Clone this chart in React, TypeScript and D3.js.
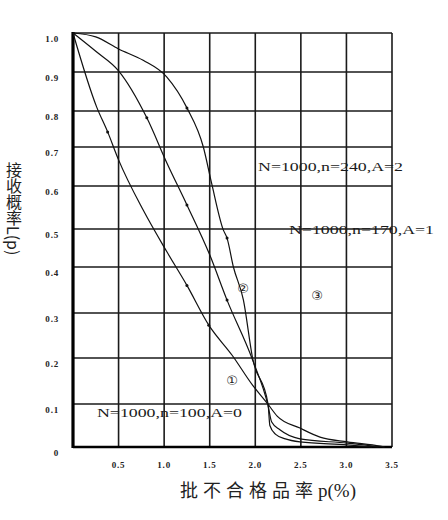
import * as d3 from 'd3'

const width = 448
const height = 520

// axis ticks
const xTicks = [0.5, 1.0, 1.5, 2.0, 2.5, 3.0, 3.5]
const xTickLabels = ['0.5', '1.0', '1.5', '2.0', '2.5', '3.0', '3.5']
const yTicks = [0, 0.1, 0.2, 0.3, 0.4, 0.5, 0.6, 0.7, 0.8, 0.9, 1.0]
const yTickLabels = ['0', '0.1', '0.2', '0.3', '0.4', '0.5', '0.6', '0.7', '0.8', '0.9', '1.0']

// OC curves, p in %, L(p)
const pA0 = [0, 0.26, 0.38, 0.5, 0.77, 1.03, 1.25, 1.49, 1.75, 1.97, 2.13, 2.24, 2.49, 2.71, 3.01, 3.37, 3.42]
const lA0 = [1.0, 0.81, 0.742, 0.667, 0.544, 0.44, 0.36, 0.273, 0.205, 0.141, 0.102, 0.072, 0.044, 0.023, 0.012, 0.002, 0]

const pA1 = [0, 0.25, 0.5, 0.81, 1.03, 1.25, 1.5, 1.69, 1.97, 2.14, 2.18, 2.27, 2.49, 3.01, 3.29, 3.35]
const lA1 = [1.0, 0.953, 0.903, 0.781, 0.659, 0.556, 0.432, 0.328, 0.196, 0.096, 0.058, 0.04, 0.019, 0.009, 0.002, 0]

const pA2 = [0, 0.25, 0.5, 0.77, 1.03, 1.25, 1.43, 1.52, 1.65, 1.69, 1.76, 1.87, 1.97, 2.14, 2.16, 2.22, 2.33, 2.49, 3.01, 3.28]
const lA2 = [1.0, 0.99, 0.959, 0.93, 0.887, 0.808, 0.7, 0.608, 0.497, 0.476, 0.4, 0.328, 0.2, 0.1, 0.05, 0.03, 0.019, 0.012, 0.005, 0]

// points that carry a small plotted dot in the original drawing
const dotP = [0.38, 0.81, 1.25, 1.49, 1.69]

const planLabels = ['N=1000,n=100,A=0', 'N=1000,n=170,A=1', 'N=1000,n=240,A=2']
const planP = [0.263, 2.37, 2.03]
const planL = [0.081, 0.5, 0.649]

const curveMarks = ['①', '②', '③']
const markP = [1.745, 1.865, 2.677]
const markL = [0.152, 0.354, 0.339]

// the printed grid is hand drawn: rows are not evenly spaced
const gridRows = [447, 404, 358, 313, 267, 229, 186, 147, 111, 72, 33]

const x = d3.scaleLinear().domain([0, 3.5]).range([73, 392])
const y = d3.scaleLinear().domain(yTicks).range(gridRows)

const line = d3
  .line<[number, number]>()
  .x((d) => x(d[0]))
  .y((d) => y(d[1]))
  .curve(d3.curveMonotoneX)

const curves = [
  d3.zip(pA0, lA0) as [number, number][],
  d3.zip(pA1, lA1) as [number, number][],
  d3.zip(pA2, lA2) as [number, number][],
]

const serif = '"Liberation Serif", "DejaVu Serif", serif'
const cjk = '"Noto Sans CJK SC", "Noto Sans", sans-serif'

export default function App() {
  return (
    <svg
      width={width}
      height={height}
      viewBox={`0 0 ${width} ${height}`}
      style={{ position: 'absolute', left: 0, top: 0, background: '#fff' }}
    >
      <rect width={width} height={height} fill="#fff" />

      {/* grid */}
      <g stroke="#1a1a1a" strokeWidth={1.6}>
        {xTicks.map((t) => (
          <line key={`vx-${t}`} x1={x(t)} x2={x(t)} y1={y(1)} y2={y(0)} />
        ))}
        {yTicks.slice(1).map((t) => (
          <line key={`hy-${t}`} x1={x(0)} x2={x(3.5)} y1={y(t)} y2={y(t)} />
        ))}
      </g>
      <line x1={x(0)} x2={x(0)} y1={y(1) - 1} y2={y(0) + 1} stroke="#000" strokeWidth={3.2} />
      <line x1={x(0)} x2={x(3.5)} y1={y(0)} y2={y(0)} stroke="#000" strokeWidth={2.4} />

      {/* curves */}
      {curves.map((c, i) => (
        <g key={`curve-${i}`}>
          <path d={line(c) ?? ''} fill="none" stroke="#111" strokeWidth={1.2} />
          {c
            .filter((d) => dotP.includes(d[0]))
            .map((d) => (
              <circle key={`dot-${i}-${d[0]}`} cx={x(d[0])} cy={y(d[1])} r={1.5} fill="#111" />
            ))}
        </g>
      ))}

      {/* tick labels */}
      <g fontFamily={serif} fontWeight="bold" fontSize={9} fill="#222" letterSpacing={0.8}>
        {yTicks.map((t, i) => (
          <text key={`yl-${t}`} x={59} y={y(t) + 9} textAnchor="end">
            {yTickLabels[i]}
          </text>
        ))}
        {xTicks.map((t, i) => (
          <text key={`xl-${t}`} x={x(t)} y={468} textAnchor="middle">
            {xTickLabels[i]}
          </text>
        ))}
      </g>

      {/* sampling plan notes */}
      <g fontFamily={serif} fontSize={13} fill="#1a1a1a">
        {planLabels.map((label, i) => (
          <text
            key={label}
            x={x(planP[i])}
            y={y(planL[i])}
            dominantBaseline="central"
            textLength={145}
            lengthAdjust="spacingAndGlyphs"
          >
            {label}
          </text>
        ))}
      </g>

      <g fontFamily='"DejaVu Sans", sans-serif' fontSize={13} fill="#222">
        {curveMarks.map((m, i) => (
          <text
            key={m}
            x={x(markP[i])}
            y={y(markL[i])}
            textAnchor="middle"
            dominantBaseline="central"
          >
            {m}
          </text>
        ))}
      </g>

      {/* axis titles */}
      <text
        x={14}
        y={162}
        fontFamily={cjk}
        fontSize={16}
        fill="#222"
        style={{ writingMode: 'vertical-rl' }}
      >
        接收概率L(p)
      </text>
      <text x={180} y={497} fontFamily={cjk} fontSize={18} fill="#222">
        <tspan textLength={133} lengthAdjust="spacing">
          批不合格品率
        </tspan>
        <tspan fontFamily={serif} fontSize={19}>
          p(%)
        </tspan>
      </text>
    </svg>
  )
}
